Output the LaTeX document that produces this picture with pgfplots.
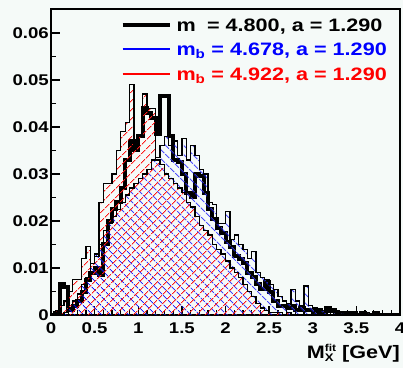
\documentclass[border=0pt]{standalone}
\usepackage{fontspec}
\setmainfont{Liberation Sans}[FakeStretch=1.2]
\usepackage{xcolor}
\usepackage{pgfplots}
\pgfplotsset{compat=1.18}
\usepackage{pgfplotstable}
\usetikzlibrary{patterns.meta}
\definecolor{bgc}{RGB}{245,250,248}

% line sample for a legend entry: colour, thickness
\newcommand{\legline}[2]{\textcolor{#1}{\rule[\dimexpr 0.36em-#2/2\relax]{47pt}{#2}}\hspace{7pt}}

% Normalised M_X^fit spectra, 0.05 GeV bins (left edges)
\pgfplotstableread{
x     blk     blu     red
0.00  0       0       0
0.05  0.0005  0       0.0010
0.10  0.0065  0       0.0020
0.15  0.0060  0.0005  0.0030
0.20  0.0010  0.0015  0.0050
0.25  0.0020  0.0030  0.0075
0.30  0.0030  0.0045  0.0075
0.35  0.0050  0.0065  0.0120
0.40  0.0075  0.0080  0.0145
0.45  0.0090  0.0110  0.0110
0.50  0.0100  0.0130  0.0125
0.55  0.0085  0.0150  0.0240
0.60  0.0150  0.0180  0.0280
0.65  0.0200  0.0195  0.0280
0.70  0.0225  0.0210  0.0300
0.75  0.0240  0.0225  0.0350
0.80  0.0270  0.0240  0.0390
0.85  0.0330  0.0255  0.0410
0.90  0.0370  0.0270  0.0490
0.95  0.0350  0.0280  0.0360
1.00  0.0380  0.0290  0.0380
1.05  0.0440  0.0300  0.0470
1.10  0.0430  0.0310  0.0440
1.15  0.0420  0.0330  0.0440
1.20  0.0385  0.0335  0.0330
1.25  0.0465  0.0360  0.0320
1.30  0.0465  0.0380  0.0300
1.35  0.0380  0.0360  0.0290
1.40  0.0330  0.0370  0.0280
1.45  0.0325  0.0340  0.0270
1.50  0.0300  0.0375  0.0260
1.55  0.0260  0.0330  0.0240
1.60  0.0250  0.0360  0.0230
1.65  0.0300  0.0340  0.0210
1.70  0.0295  0.0310  0.0190
1.75  0.0260  0.0300  0.0180
1.80  0.0225  0.0240  0.0170
1.85  0.0205  0.0235  0.0150
1.90  0.0185  0.0195  0.0140
1.95  0.0175  0.0195  0.0130
2.00  0.0155  0.0220  0.0115
2.05  0.0145  0.0160  0.0100
2.10  0.0125  0.0170  0.0090
2.15  0.0120  0.0150  0.0080
2.20  0.0110  0.0140  0.0065
2.25  0.0090  0.0120  0.0050
2.30  0.0080  0.0135  0.0040
2.35  0.0065  0.0090  0.0025
2.40  0.0055  0.0080  0.0015
2.45  0.0070  0.0075  0.0010
2.50  0.0050  0.0065  0.0005
2.55  0.0030  0.0055  0.0005
2.60  0.0020  0.0040  0.0005
2.65  0.0020  0.0030  0
2.70  0.0015  0.0025  0.0005
2.75  0.0020  0.0055  0
2.80  0.0010  0.0030  0
2.85  0.0015  0.0020  0
2.90  0.0010  0.0062  0
2.95  0.0010  0.0020  0
3.00  0.0005  0.0015  0
3.05  0.0010  0.0010  0
3.10  0.0005  0.0010  0
3.15  0.0015  0.0005  0
3.20  0.0010  0.0005  0
3.25  0.0005  0.0010  0
3.30  0.0005  0.0005  0
3.35  0.0005  0.0005  0
3.40  0       0       0
3.45  0.0005  0.0005  0
3.50  0       0       0
3.55  0.0005  0       0
3.60  0       0.0005  0
3.65  0       0       0
3.70  0.0005  0       0
3.75  0       0       0
3.80  0       0       0
3.85  0       0       0
3.90  0       0       0
3.95  0       0       0
4.00  0       0       0
}\hist

\begin{document}
\begin{tikzpicture}
\path[use as bounding box, fill=bgc] (-51pt,-53pt) rectangle (352pt,315pt);
\begin{axis}[
  scale only axis, width=349pt, height=306pt,
  xmin=0, xmax=4, ymin=0, ymax=0.0651,
  axis background/.style={fill=bgc},
  axis line style={line width=1.9pt},
  tick pos=left, tick align=inside,
  tick style={black, line width=1.3pt},
  major tick length=9pt, minor tick length=5pt,
  xtick={0,0.5,1,1.5,2,2.5,3,3.5,4},
  xticklabels={0,0.5,1,1.5,2,2.5,3,3.5,4},
  minor x tick num=4,
  ytick={0,0.01,0.02,0.03,0.04,0.05,0.06},
  yticklabels={0,0.01,0.02,0.03,0.04,0.05,0.06},
  minor y tick num=1,
  scaled y ticks=false,
  /pgf/number format/assume math mode=true,
  ticklabel style={font=\fontsize{15.5}{18}\selectfont\bfseries, inner sep=0pt},
  xticklabel style={anchor=base, yshift=-18pt},
  yticklabel style={anchor=east, xshift=-2pt},
  xlabel={M\makebox[0pt][l]{\raisebox{-3.5pt}{\fontsize{11}{11}\selectfont X}}\raisebox{6.5pt}{\fontsize{10}{10}\selectfont fit} [GeV]},
  xlabel style={at={(axis description cs:1,0)}, anchor=base east, yshift=-43pt,
    inner sep=0pt, font=\fontsize{18}{20}\selectfont\bfseries},
  legend style={draw=none, fill=none, at={(axis description cs:1,1)},
    anchor=north east, xshift=-13pt, yshift=-9pt, inner sep=0pt,
    row sep=7.5pt, column sep=0pt,
    font=\fontsize{18}{20}\selectfont\bfseries,
    nodes={inner sep=0pt, text height=13pt, text depth=4pt}},
  legend cell align=left,
  legend image code/.code={},
]
% m = 4.800 (thick)
\addplot[const plot, black, line width=4pt, forget plot] table[x=x,y=blk]{\hist};
% hatched fills of the shifted spectra
\addplot[const plot, draw=none, forget plot,
  pattern={Lines[angle=-45,distance=6.5pt,line width=0.85pt]}, pattern color=blue]
  table[x=x,y=blu]{\hist} \closedcycle;
\addplot[const plot, draw=none, forget plot,
  pattern={Lines[angle=45,distance=6.5pt,line width=0.85pt]}, pattern color=red!90]
  table[x=x,y=red]{\hist} \closedcycle;
% outlines
\addplot[const plot, black, line width=1.3pt, forget plot] table[x=x,y=blu]{\hist};
\addplot[const plot, black, line width=1.3pt, forget plot] table[x=x,y=red]{\hist};

\addlegendimage{empty legend}
\addlegendentry{\legline{black}{4pt}m\hspace{0.3em} = 4.800, a = 1.290}
\addlegendimage{empty legend}
\addlegendentry{\legline{blue}{2pt}\textcolor{blue}{m\textsubscript{b} = 4.678, a = 1.290}}
\addlegendimage{empty legend}
\addlegendentry{\legline{red}{2pt}\textcolor{red}{m\textsubscript{b} = 4.922, a = 1.290}}
\end{axis}
\end{tikzpicture}
\end{document}
